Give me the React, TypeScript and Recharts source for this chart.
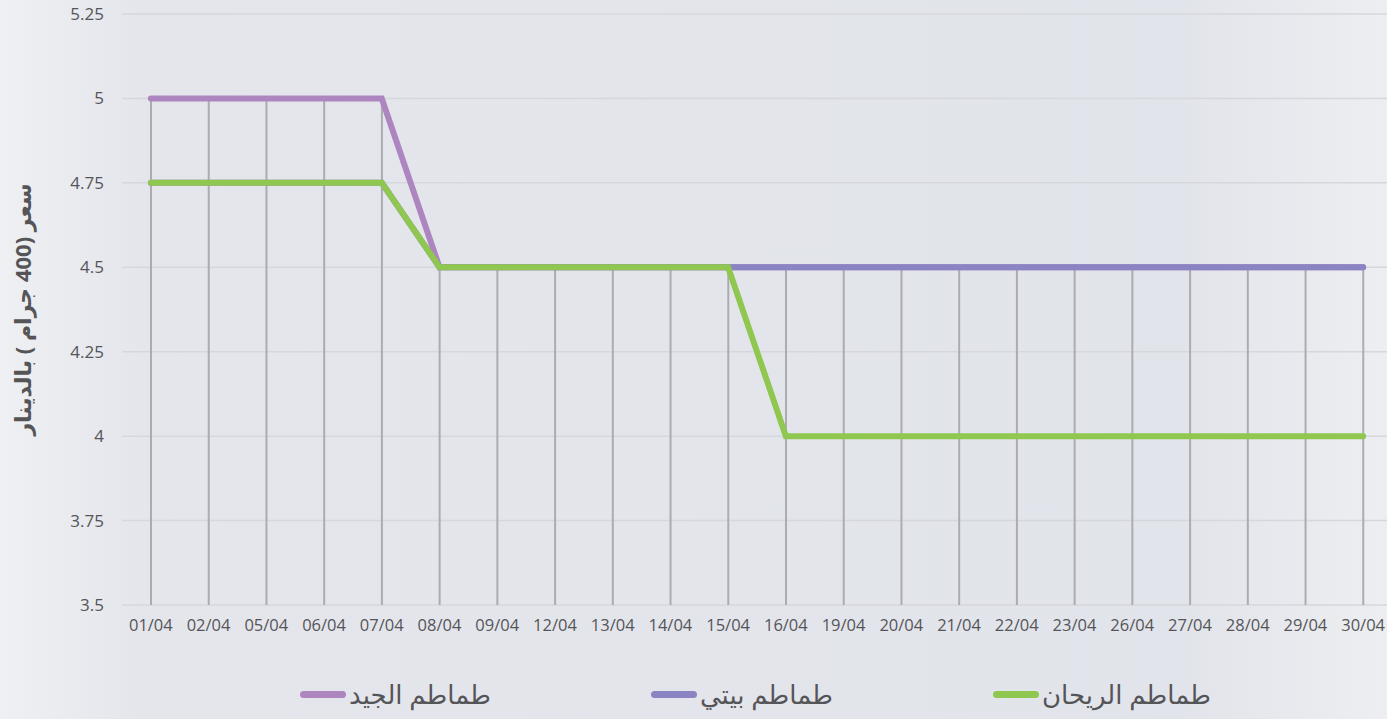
import { ComposedChart, Line, Bar, XAxis, YAxis, CartesianGrid, Legend, Label } from 'recharts';

const dates = [
  '01/04', '02/04', '05/04', '06/04', '07/04', '08/04', '09/04', '12/04', '13/04', '14/04', '15/04',
  '16/04', '19/04', '20/04', '21/04', '22/04', '23/04', '26/04', '27/04', '28/04', '29/04', '30/04',
];
const jayyed = [5, 5, 5, 5, 5, 4.5, 4.5, 4.5, 4.5, 4.5, 4.5, 4.5, 4.5, 4.5, 4.5, 4.5, 4.5, 4.5, 4.5, 4.5, 4.5, 4.5];
const baiti = [4.75, 4.75, 4.75, 4.75, 4.75, 4.5, 4.5, 4.5, 4.5, 4.5, 4.5, 4.5, 4.5, 4.5, 4.5, 4.5, 4.5, 4.5, 4.5, 4.5, 4.5, 4.5];
const rayhan = [4.75, 4.75, 4.75, 4.75, 4.75, 4.5, 4.5, 4.5, 4.5, 4.5, 4.5, 4, 4, 4, 4, 4, 4, 4, 4, 4, 4, 4];
const yTicks = [3.5, 3.75, 4, 4.25, 4.5, 4.75, 5, 5.25];

const series = [
  { key: 'jayyed', name: 'طماطم الجيد', color: '#ad86c0' },
  { key: 'baiti', name: 'طماطم بيتي', color: '#8b84c2' },
  { key: 'rayhan', name: 'طماطم الريحان', color: '#8fc750' },
];

const data = dates.map((d, i) => ({
  date: d,
  jayyed: jayyed[i],
  baiti: baiti[i],
  rayhan: rayhan[i],
  drop: Math.max(jayyed[i], baiti[i], rayhan[i]),
}));

const font = '"Open Sans", "DejaVu Sans", sans-serif';
const textColor = '#555558';

function LegendContent() {
  return (
    <div style={{ display: 'flex', justifyContent: 'center', gap: 160, fontFamily: font, marginLeft: 124 }}>
      {series.map((s) => (
        <div key={s.key} style={{ display: 'flex', alignItems: 'center' }}>
          <span style={{ width: 46, height: 7, borderRadius: 4, background: s.color, display: 'inline-block' }} />
          <span style={{ fontSize: 26, color: textColor, direction: 'rtl', marginLeft: 3 }}>{s.name}</span>
        </div>
      ))}
    </div>
  );
}

function YTitle(props: any) {
  const vb = props.viewBox || {};
  const cy = vb.y + vb.height / 2;
  return (
    <text
      x={22}
      y={cy}
      transform={`rotate(-90, 22, ${cy})`}
      textAnchor="middle"
      dominantBaseline="central"
      direction="rtl"
      fill={textColor}
      fontSize={22}
      fontWeight="bold"
      fontFamily={font}
    >
      سعر (400 جرام ) بالدينار
    </text>
  );
}

export default function App() {
  return (
    <div
      style={{
        position: 'fixed',
        left: 0,
        top: 0,
        width: 1387,
        height: 719,
        overflow: 'hidden',
        background: 'linear-gradient(90deg, #eef0f3 0%, #e4e6ec 10%, #e2e4eb 85%, #eceef1 100%)',
      }}
    >
      <ComposedChart width={1400} height={719} data={data} margin={{ top: 14, right: 8, bottom: 34, left: 0 }}>
        <CartesianGrid vertical={false} stroke="#d6d7dd" strokeWidth={1.5} />
        <XAxis
          dataKey="date"
          interval={0}
          tickLine={false}
          axisLine={false}
          tickMargin={8}
          tick={{ fill: textColor, fontSize: 16.5, fontFamily: font }}
        />
        <YAxis
          width={122}
          domain={[3.5, 5.25]}
          ticks={yTicks}
          allowDataOverflow
          tickLine={false}
          axisLine={false}
          tickMargin={12}
          tick={{ fill: textColor, fontSize: 17, fontFamily: font }}
        >
          <Label content={<YTitle />} />
        </YAxis>
        <Bar dataKey="drop" barSize={2} fill="#acacb0" legendType="none" isAnimationActive={false} />
        {series.map((s) => (
          <Line
            key={s.key}
            type="linear"
            dataKey={s.key}
            name={s.name}
            stroke={s.color}
            strokeWidth={6}
            strokeLinecap="round"
            dot={false}
            isAnimationActive={false}
          />
        ))}
        <Legend
          verticalAlign="bottom"
          height={50}
          content={<LegendContent />}
          wrapperStyle={{ left: 0, width: 1387, bottom: 0, height: 50, display: 'flex', alignItems: 'center', justifyContent: 'center' }}
        />
      </ComposedChart>
    </div>
  );
}
